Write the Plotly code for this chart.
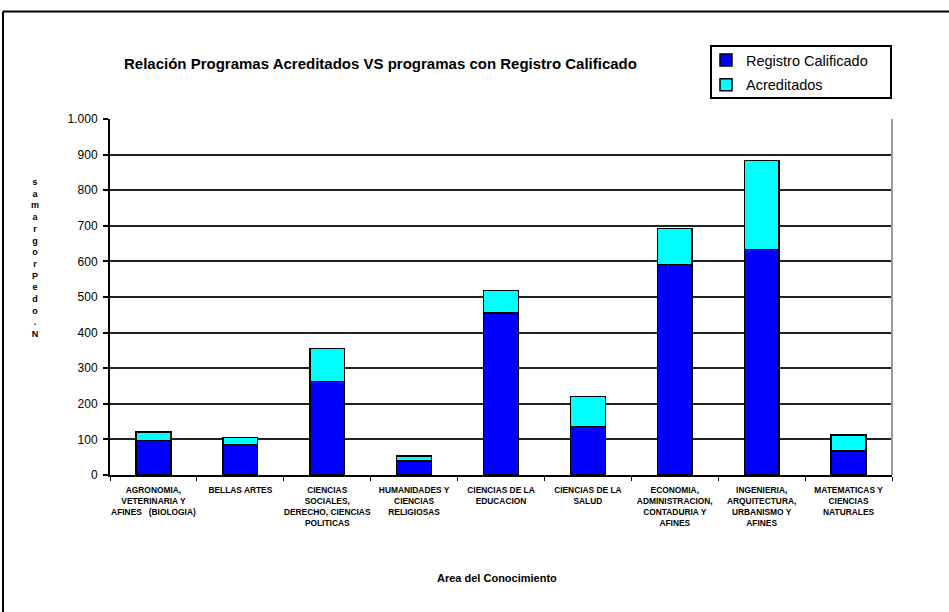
import plotly.graph_objects as go

# Areas del conocimiento (etiquetas partidas como en la hoja original)
areas = [
    "AGRONOMIA,<br>VETERINARIA Y<br>AFINES   (BIOLOGIA)",
    "BELLAS ARTES",
    "CIENCIAS<br>SOCIALES,<br>DERECHO, CIENCIAS<br>POLITICAS",
    "HUMANIDADES Y<br>CIENCIAS<br>RELIGIOSAS",
    "CIENCIAS DE LA<br>EDUCACION",
    "CIENCIAS DE LA<br>SALUD",
    "ECONOMIA,<br>ADMINISTRACION,<br>CONTADURIA Y<br>AFINES",
    "INGENIERIA,<br>ARQUITECTURA,<br>URBANISMO Y<br>AFINES",
    "MATEMATICAS Y<br>CIENCIAS<br>NATURALES",
]
registro_calificado = [97, 86, 262, 40, 455, 136, 591, 634, 68]
acreditados = [24, 19, 93, 14, 63, 84, 102, 250, 45]

y_ticks = [0, 100, 200, 300, 400, 500, 600, 700, 800, 900, 1000]
y_title = "N.o de Programas"

FONT = "Liberation Sans, Arial, sans-serif"
W, H = 949, 612

# plot area in pixels: x 110..892, y 119..475
PX_L, PX_R, PX_T, PX_B = 110, 892, 119, 475


def px_x(x):
    return (x - PX_L) / (PX_R - PX_L)


def px_y(y):
    return (PX_B - y) / (PX_B - PX_T)


fig = go.Figure()
fig.add_trace(
    go.Bar(
        x=areas,
        y=registro_calificado,
        name="Registro Calificado",
        legendgroup="a",
        marker=dict(color="#0000FF", line=dict(color="#000000", width=1.5)),
    )
)
fig.add_trace(
    go.Bar(
        x=areas,
        y=acreditados,
        name="Acreditados",
        legendgroup="b",
        marker=dict(color="#00FFFF", line=dict(color="#000000", width=1.5)),
    )
)

fig.update_layout(
    width=W,
    height=H,
    barmode="stack",
    bargap=0.6,
    paper_bgcolor="white",
    plot_bgcolor="white",
    separators=",.",
    font=dict(family=FONT, color="#000000", size=12),
    margin=dict(l=PX_L, r=W - PX_R, t=PX_T, b=H - PX_B, autoexpand=False),
    showlegend=True,
    legend=dict(
        x=px_x(706), y=px_y(44), xanchor="left", yanchor="top",
        borderwidth=0, bgcolor="rgba(0,0,0,0)",
        font=dict(family=FONT, size=14.5),
        traceorder="grouped", tracegroupgap=3,
    ),
    xaxis=dict(
        showgrid=False,
        showline=True, linecolor="#000000", linewidth=2,
        ticks="outside", tickson="boundaries", ticklen=4, tickcolor="#000000",
        tickfont=dict(family=FONT, size=8.4, weight="bold"),
        ticklabelstandoff=6,
        tickangle=0,
        fixedrange=True,
    ),
    yaxis=dict(
        range=[0, 1000],
        tickvals=y_ticks,
        tickformat=",d",
        showgrid=True, gridcolor="#222222", gridwidth=1.5,
        showline=True, linecolor="#000000", linewidth=2,
        ticks="outside", ticklen=5, tickcolor="#000000", tickwidth=1.5,
        tickfont=dict(family=FONT, size=12),
        ticklabelstandoff=3,
        zeroline=False,
        fixedrange=True,
    ),
)

# title
fig.add_annotation(
    text="Relación Programas Acreditados VS programas con Registro Calificado",
    xref="paper", yref="paper", x=px_x(380), y=px_y(64),
    xanchor="center", yanchor="middle", showarrow=False,
    font=dict(family=FONT, size=15, weight="bold"),
)

# x axis title
fig.add_annotation(
    text="Area del Conocimiento",
    xref="paper", yref="paper", x=px_x(497), y=px_y(578),
    xanchor="center", yanchor="middle", showarrow=False,
    font=dict(family=FONT, size=11, weight="bold"),
)

# y axis title, stacked letter by letter (bottom to top) as in the original
stacked = "<br>".join(ch for ch in reversed(y_title) if ch != " ")
fig.add_annotation(
    text=stacked, xref="paper", yref="paper",
    x=px_x(35), y=px_y(258),
    xanchor="center", yanchor="middle", showarrow=False,
    font=dict(family=FONT, size=9, weight="bold"),
)

# legend frame
fig.add_shape(type="rect", xref="paper", yref="paper",
              x0=px_x(711), x1=px_x(891), y0=px_y(98), y1=px_y(46),
              line=dict(color="#000000", width=2))

# right border of the plot area and outer chart frame
fig.add_shape(type="line", xref="paper", yref="paper", x0=1, x1=1, y0=0, y1=1,
              line=dict(color="#999999", width=2))
fig.add_shape(type="line", xref="paper", yref="paper",
              x0=px_x(3), x1=px_x(960), y0=px_y(11.5), y1=px_y(11.5),
              line=dict(color="#000000", width=2))
fig.add_shape(type="line", xref="paper", yref="paper",
              x0=px_x(3), x1=px_x(3), y0=px_y(11.5), y1=px_y(640),
              line=dict(color="#000000", width=2))

fig.write_html(
    "out.html",
    config={"displayModeBar": False},
    post_script="document.body.style.margin='0';document.body.style.overflow='hidden';",
)
